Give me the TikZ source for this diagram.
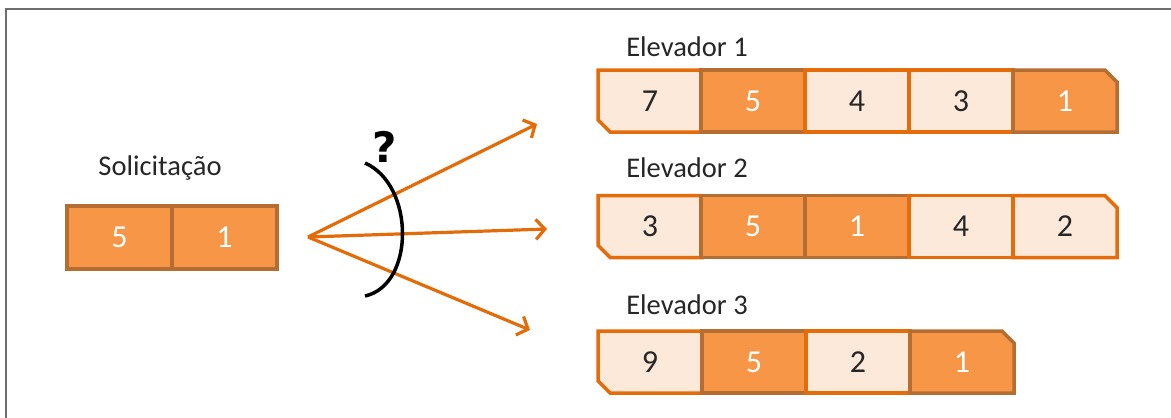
\documentclass[tikz,border=0pt]{standalone}
\usepackage{fontspec}
\setmainfont{Carlito}
\newfontfamily\qfont{DejaVu Sans}
\usetikzlibrary{arrows.meta,shapes.misc}
\definecolor{lightfill}{HTML}{FDE9D9}
\definecolor{lightedge}{HTML}{E46C0A}
\definecolor{darkfill}{HTML}{F79646}
\definecolor{darkedge}{HTML}{B66D31}
\definecolor{arrowcol}{HTML}{E36C09}
\definecolor{txt}{HTML}{262626}
\definecolor{framecol}{HTML}{6E6E6E}
\tikzset{
  cellbase/.style={rectangle,
    minimum width=104pt, minimum height=62pt, inner sep=0pt, line width=3.5pt,
    font=\fontsize{32}{34}\selectfont},
  light/.style={cellbase, fill=lightfill, draw=lightedge, text=txt},
  dark/.style={cellbase, fill=darkfill, draw=darkedge, text=white},
  cutsw/.style={chamfered rectangle, chamfered rectangle xsep=9pt, chamfered rectangle corners=south west},
  cutne/.style={chamfered rectangle, chamfered rectangle xsep=9pt, chamfered rectangle corners=north east},
  lbl/.style={font=\fontsize{28.5}{30}\selectfont, text=txt, inner sep=0pt},
  choice/.style={draw=arrowcol, line width=3.2pt, -{Straight Barb[length=9pt,width=20pt,line width=3.2pt]}},
}
\begin{document}
\begin{tikzpicture}[x=1pt,y=-1pt]
\useasboundingbox (0,0) rectangle (1171,418);
% frame
\draw[framecol, line width=2pt] (6,418) -- (6,9) -- (1171,9);

% request
\node[lbl] (sollbl) at (160,168) {Solicitação};
\node[dark, minimum width=105pt, minimum height=63pt] (s1) at (119.5,237.5) {5};
\node[dark, minimum width=105pt, minimum height=63pt] (s2) at (224.5,237.5) {1};

% elevator 1
\node[lbl] (e1lbl) at (687,47) {Elevador 1};
\node[light, cutsw] (a1) at (650,101) {7};
\node[dark] (a2) at (753,101) {5};
\node[light] (a3) at (857,101) {4};
\node[light] (a4) at (961,101) {3};
\node[dark, cutne] (a5) at (1065,101) {1};

% elevator 2
\node[lbl] (e2lbl) at (687,168) {Elevador 2};
\node[light, cutsw] (b1) at (650,226.5) {3};
\node[dark] (b2) at (753,226.5) {5};
\node[dark] (b3) at (857,226.5) {1};
\node[light] (b4) at (961,226.5) {4};
\node[light, cutne] (b5) at (1065,226.5) {2};

% elevator 3
\node[lbl] (e3lbl) at (687,305) {Elevador 3};
\node[light, cutsw] (c1) at (650,362) {9};
\node[dark] (c2) at (754,362) {5};
\node[light] (c3) at (858,362) {2};
\node[dark, cutne] (c4) at (962,362) {1};

% arrows
\coordinate (src) at (308,237);
\coordinate (t1) at (537,124);
\coordinate (t2) at (547,229);
\coordinate (t3) at (530,330);
\draw[choice] (src) -- (t1);
\draw[choice] (src) -- (t2);
\draw[choice] (src) -- (t3);

% arc and question mark
\coordinate (arcA) at (365,163);
\coordinate (arcB) at (365,296);
\draw[black, line width=3.5pt] (arcA) .. controls (415,185) and (415,285) .. (arcB);
\node[font=\qfont\bfseries\fontsize{42}{42}\selectfont, inner sep=0pt] (q) at (385,147) {?};
\end{tikzpicture}
\end{document}
